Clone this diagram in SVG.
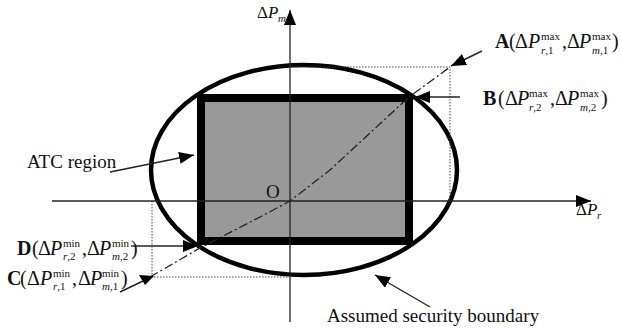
<svg xmlns="http://www.w3.org/2000/svg" width="621" height="329" viewBox="0 0 621 329">
<defs>
<style>
text{font-family:"Liberation Serif","Times New Roman",serif;fill:#111;}
.lbl{font-size:19px;}
.m{font-size:20px;}
.ax{font-size:17px;}
.b{font-weight:bold;}
.i{font-style:italic;}
.s{font-size:11px;}
.axis{stroke:#222;stroke-width:1.3;fill:none;}
.lead{stroke:#222;stroke-width:1.4;fill:none;}
.dot{stroke:#444;stroke-width:1;stroke-dasharray:1.5,1.5;fill:none;}
.dd{stroke:#222;stroke-width:1.3;stroke-dasharray:9,3,2,3;fill:none;}
</style>
<marker id="ah" markerUnits="userSpaceOnUse" markerWidth="16" markerHeight="12" refX="15" refY="6" orient="auto" viewBox="0 0 16 12">
<path d="M0,0 L15,6 L0,12 z" fill="#000"/>
</marker>
</defs>
<rect width="621" height="329" fill="#fff"/>

<g id="atc-region">
<rect x="201" y="98" width="208" height="143" fill="#999" stroke="#000" stroke-width="8"/>
</g>
<g id="security-boundary">
<ellipse cx="304" cy="170" rx="153" ry="105" fill="none" stroke="#000" stroke-width="4.5"/>
</g>

<g id="connectors">
<line class="axis" x1="290" y1="322" x2="290" y2="10" marker-end="url(#ah)"/>
<line class="axis" x1="52" y1="201" x2="591" y2="201" marker-end="url(#ah)"/>
<polyline class="dd" points="150,277 200,248 260,217 290,201 330,170 409,97 450,67"/>
<polyline class="dot" points="290,67 450,67 450,201"/>
<polyline class="dot" points="152,201 152,277 290,277"/>
<line class="lead" x1="482" y1="51" x2="451" y2="66" marker-end="url(#ah)"/>
<line class="lead" x1="460" y1="97" x2="415" y2="97" marker-end="url(#ah)"/>
<line class="lead" x1="131" y1="246" x2="198" y2="246" marker-end="url(#ah)"/>
<line class="lead" x1="120" y1="292" x2="143" y2="281"/>
<polygon points="139,275 154,276 145,285" fill="#000"/>
<line class="lead" x1="110" y1="172" x2="194" y2="155" marker-end="url(#ah)"/>
<line class="lead" x1="430" y1="307" x2="375" y2="275" marker-end="url(#ah)"/>
</g>

<g id="axis-labels">
<text class="ax" y="18"><tspan x="257">Δ</tspan><tspan x="268" class="i">P</tspan><tspan x="278" y="22" class="s i">m</tspan></text>
<text class="ax" y="215"><tspan x="576">Δ</tspan><tspan x="587" class="i">P</tspan><tspan x="597" y="219" class="s i">r</tspan></text>
</g>

<g id="origin"><text class="lbl" x="266" y="198">O</text></g>

<g id="label-A">
<text class="m" y="48"><tspan x="495" class="b">A</tspan><tspan x="509">(</tspan><tspan x="515">Δ</tspan><tspan x="528" class="i">P</tspan><tspan x="541" y="40" class="s">max</tspan><tspan x="541" y="54" class="s"><tspan class="i">r</tspan>,1</tspan><tspan x="562" y="48">,</tspan><tspan x="567">Δ</tspan><tspan x="579" class="i">P</tspan><tspan x="592" y="40" class="s">max</tspan><tspan x="592" y="54" class="s"><tspan class="i">m</tspan>,1</tspan><tspan x="612" y="48">)</tspan></text>
</g>

<g id="label-B">
<text class="m" y="105"><tspan x="483" class="b">B</tspan><tspan x="498">(</tspan><tspan x="505">Δ</tspan><tspan x="517" class="i">P</tspan><tspan x="529" y="97" class="s">max</tspan><tspan x="529" y="111" class="s"><tspan class="i">r</tspan>,2</tspan><tspan x="550" y="105">,</tspan><tspan x="555">Δ</tspan><tspan x="567" class="i">P</tspan><tspan x="580" y="97" class="s">max</tspan><tspan x="580" y="111" class="s"><tspan class="i">m</tspan>,2</tspan><tspan x="601" y="105">)</tspan></text>
</g>

<g id="label-D">
<text class="m" y="255"><tspan x="17" class="b">D</tspan><tspan x="32">(</tspan><tspan x="38">Δ</tspan><tspan x="50" class="i">P</tspan><tspan x="63" y="247" class="s">min</tspan><tspan x="63" y="260" class="s"><tspan class="i">r</tspan>,2</tspan><tspan x="82" y="255">,</tspan><tspan x="87">Δ</tspan><tspan x="99" class="i">P</tspan><tspan x="112" y="247" class="s">min</tspan><tspan x="112" y="260" class="s"><tspan class="i">m</tspan>,2</tspan><tspan x="131" y="255">)</tspan></text>
</g>

<g id="label-C">
<text class="m" y="285"><tspan x="7" class="b">C</tspan><tspan x="20">(</tspan><tspan x="27">Δ</tspan><tspan x="40" class="i">P</tspan><tspan x="53" y="277" class="s">min</tspan><tspan x="53" y="290" class="s"><tspan class="i">r</tspan>,1</tspan><tspan x="72" y="285">,</tspan><tspan x="78">Δ</tspan><tspan x="90" class="i">P</tspan><tspan x="102" y="277" class="s">min</tspan><tspan x="102" y="290" class="s"><tspan class="i">m</tspan>,1</tspan><tspan x="121" y="285">)</tspan></text>
</g>

<g id="label-atc"><text class="lbl" x="27" y="168">ATC region</text></g>
<g id="label-boundary"><text class="lbl" x="327" y="322">Assumed security boundary</text></g>
</svg>
